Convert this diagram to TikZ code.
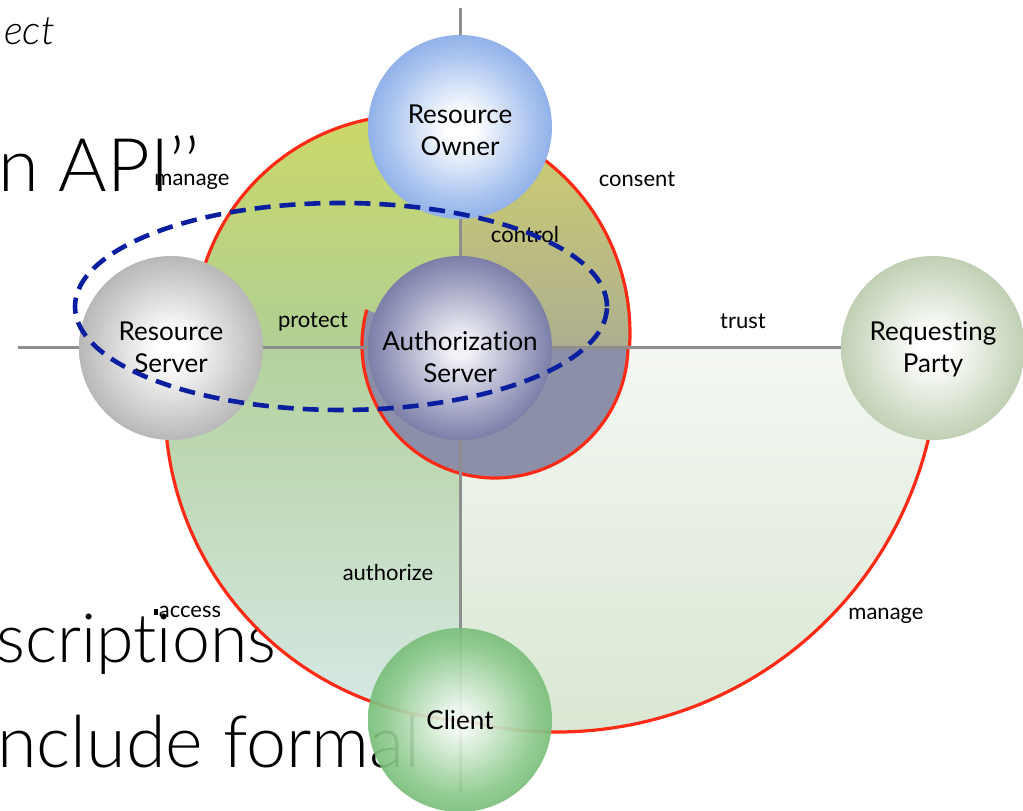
\documentclass[tikz,border=0pt]{standalone}
\usepackage{fontspec}
\setmainfont{Lato}[Ligatures={TeX,NoCommon}]
\IfFontExistsTF{Lato Light}
  {\newfontfamily\slidefont{Lato Light}[Ligatures={TeX,NoCommon}]}
  {\newfontfamily\slidefont{Lato}[Ligatures={TeX,NoCommon}]}

% palette
\definecolor{axisgray}{HTML}{8E8E8E}
\definecolor{rimred}{HTML}{FF2B16}
\definecolor{dashblue}{HTML}{0A1FA0}
\definecolor{ulTop}{HTML}{CCD866}
\definecolor{ulBot}{HTML}{B0CF94}
\definecolor{urTop}{HTML}{CFD06E}
\definecolor{urBot}{HTML}{ADAE90}
\definecolor{llTop}{HTML}{B3D19D}
\definecolor{llBot}{HTML}{D6E9E6}
\definecolor{lrTop}{HTML}{F4F7F2}
\definecolor{lrBot}{HTML}{D8E6D1}
\definecolor{loopFill}{HTML}{8B8FA7}

\definecolor{roMid}{HTML}{A7C2EF}
\definecolor{roOut}{HTML}{6893DC}
\definecolor{rsMid}{HTML}{C9C9C9}
\definecolor{rsOut}{HTML}{959595}
\definecolor{asIn}{HTML}{F1F1F6}
\definecolor{asMid}{HTML}{9597BB}
\definecolor{asOut}{HTML}{4A4E84}
\definecolor{rpMid}{HTML}{CFDBC5}
\definecolor{rpOut}{HTML}{A3B893}
\definecolor{clIn}{HTML}{F2F9F2}
\definecolor{clMid}{HTML}{8DCA8D}
\definecolor{clOut}{HTML}{52A652}

% sphere-like radial shadings, bright in the middle (35bp = rim of the node)
\pgfdeclareradialshading{ownerball}{\pgfpoint{0bp}{0bp}}{color(0bp)=(white); color(4bp)=(white); color(20bp)=(roMid); color(35bp)=(roOut); color(50bp)=(roOut)}
\pgfdeclareradialshading{serverball}{\pgfpoint{0bp}{0bp}}{color(0bp)=(white); color(4bp)=(white); color(20bp)=(rsMid); color(35bp)=(rsOut); color(50bp)=(rsOut)}
\pgfdeclareradialshading{authball}{\pgfpoint{0bp}{0bp}}{color(0bp)=(asIn); color(3bp)=(asIn); color(20bp)=(asMid); color(35bp)=(asOut); color(50bp)=(asOut)}
\pgfdeclareradialshading{partyball}{\pgfpoint{0bp}{0bp}}{color(0bp)=(white); color(4bp)=(white); color(20bp)=(rpMid); color(35bp)=(rpOut); color(50bp)=(rpOut)}
\pgfdeclareradialshading{clientball}{\pgfpoint{0bp}{0bp}}{color(0bp)=(clIn); color(3bp)=(clIn); color(20bp)=(clMid); color(35bp)=(clOut); color(50bp)=(clOut)}

\tikzset{
  ball/.style={circle, minimum size=184pt, inner sep=0pt, draw=none},
  balltext/.style={inner sep=0pt, align=center, font=\fontsize{26}{32}\selectfont},
  rel/.style={inner sep=0pt, anchor=base, font=\fontsize{22}{26}\selectfont},
  slidetext/.style={inner sep=0pt, anchor=base west},
  axis/.style={draw=axisgray, line width=3pt},
  rim/.style={draw=rimred, line width=3.2pt},
  scope/.style={draw=dashblue, line width=4.6pt, dash pattern=on 16pt off 9pt}
}

\begin{document}
\begin{tikzpicture}[x=1pt,y=1pt]
\useasboundingbox (0,0) rectangle (1023,811);

% centres of the five parties
\coordinate (ro) at (460,684);
\coordinate (rs) at (171,463);
\coordinate (as) at (460,463);
\coordinate (rp) at (933,463);
\coordinate (cl) at (460,91);
\coordinate (westend) at (18,463);
\coordinate (northend) at (460,803);
\coordinate (southend) at (460,18);

% slide text behind the diagram
\node[slidetext, anchor=base east, font=\fontsize{40}{42}\slidefont\itshape] (slideA) at (55,766) {ect};
\node[slidetext, font=\fontsize{74}{80}\slidefont] (slideB) at (-2,619) {n API’’};
\node[slidetext, font=\fontsize{68}{72}\slidefont] (slideC) at (-4,148) {scriptions};
\node[slidetext, font=\fontsize{72}{76}\slidefont] (slideD) at (-3,43) {nclude formal};

% quadrant fields
\shade[top color=lrTop, bottom color=lrBot]
  (as) -- (460,91.5) arc[start angle=255.3, end angle=360.3, radius=382] -- cycle;
\shade[top color=llTop, bottom color=llBot]
  (as) -- (170.4,463) arc[start angle=169.4, end angle=266.4, radius=315] -- cycle;
\shade[top color=ulTop, bottom color=ulBot]
  (as) -- (194.5,463.2) arc[start angle=183.9, end angle=77.3, radius=218] -- cycle;
\shade[top color=urTop, bottom color=urBot]
  (as) -- (459.9,690.7) arc[start angle=77.3, end angle=-3.9, radius=218] -- cycle;
\fill[loopFill]
  (366.8,501.3) arc[start angle=164.6, end angle=358.7, radius=133] -- (as) -- cycle;

% red rims
\draw[rim] (194.5,463.2) arc[start angle=183.9, end angle=-3.9, radius=218];
\draw[rim] (170.4,463) arc[start angle=169.4, end angle=266.4, radius=315];
\draw[rim] (460,91.5) arc[start angle=255.3, end angle=360.3, radius=382];
\draw[rim] (366.8,501.3) arc[start angle=164.6, end angle=358.7, radius=133];

% axes
\draw[axis] (westend) -- (rp);
\draw[axis] (northend) -- (southend);

% parties
\node[ball, shading=ownerball] (roball) at (ro) {};
\node[ball, shading=serverball] (rsball) at (rs) {};
\node[ball, shading=authball] (asball) at (as) {};
\node[ball, shading=partyball] (rpball) at (rp) {};
\node[ball, shading=clientball, fill opacity=0.92] (clball) at (cl) {};

\node[balltext] (rotext) at ([yshift=-3pt]ro) {Resource\\Owner};
\node[balltext] (rstext) at ([yshift=1pt]rs) {Resource\\Server};
\node[balltext] (astext) at ([yshift=-9pt]as) {Authorization\\Server};
\node[balltext] (rptext) at ([yshift=-1pt]rp) {Requesting\\Party};
\node[balltext] (cltext) at (cl) {Client};

% relationship labels
\node[rel] (lmanageA) at (192,625) {manage};
\node[rel] (lconsent) at (637,624) {consent};
\node[rel] (lcontrol) at (525,568) {control};
\node[rel] (lprotect) at (313,483) {protect};
\node[rel] (ltrust) at (743,482) {trust};
\node[rel] (lauthorize) at (388,230) {authorize};
\node[rel] (laccess) at (190,193) {access};
\node[rel] (lmanageB) at (886,191) {manage};
\fill (154,196) rectangle (157.5,202);

% protection domain
\draw[scope] (341,504.5) ellipse[x radius=266, y radius=103.5];
\end{tikzpicture}
\end{document}
